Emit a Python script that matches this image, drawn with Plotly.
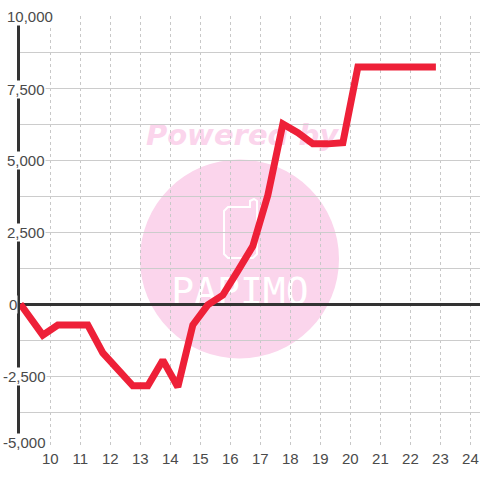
import plotly.graph_objects as go

hours = [9.0, 9.75, 10.25, 11.25, 11.75, 12.75, 13.25, 13.75, 14.25, 14.75, 15.25, 15.75,
         16.25, 16.75, 17.25, 17.75, 18.25, 18.75, 19.25, 19.75, 20.25, 22.85]
values = [0, -1080, -730, -730, -1700, -2840, -2840, -1950, -2880, -730, -30, 310,
          1150, 2010, 3780, 6250, 5950, 5560, 5560, 5600, 8230, 8230]
x_ticks = list(range(10, 25))
y_grid = [-5000, -3750, -2500, -1250, 0, 1250, 2500, 3750, 5000, 6250, 7500, 8750, 10000]
y_labels = [10000, 7500, 5000, 2500, 0, -2500, -5000]

W, H = 480, 480
L, R, T, B = 20, 0, 16, 32
PINK = "#FBD5EC"
INK = "#4A4A4A"


def px(v):
    return (v - L) / (W - L - R)


def py(v):
    return 1 - (v - T) / (H - T - B)


def label_box(x0, y0, x1, y1, text, font):
    return dict(type="rect", xref="paper", yref="paper", x0=px(x0), x1=px(x1), y0=py(y1), y1=py(y0),
                line=dict(width=0), fillcolor="rgba(0,0,0,0)", layer="below",
                label=dict(text=text, font=font, textposition="middle center"))


def phone_path():
    pts = [(228, 207), (250, 207), (250, 201), (254, 199), (257, 201), (257, 254),
           (253, 258), (228, 258), (224, 254), (224, 211)]
    return "M " + " L ".join(f"{px(a):.4f} {py(b):.4f}" for a, b in pts) + " Z"


shapes = [
    dict(type="circle", xref="paper", yref="paper", x0=px(140), x1=px(339), y0=py(358.5), y1=py(159.5),
         line=dict(width=0), fillcolor=PINK, layer="below"),
    dict(type="path", xref="paper", yref="paper", path=phone_path(),
         line=dict(color="white", width=2), fillcolor="rgba(0,0,0,0)", layer="below"),
    label_box(132, 113, 352, 153, "<b><i>Powered by</i></b>",
              dict(family="DejaVu Sans", size=29, color=PINK)),
    label_box(150, 267, 330, 309, "PAPIMO",
              dict(family="DejaVu Sans Mono", size=38, color="white")),
]

annotations = []
for v in y_labels:
    annotations.append(dict(
        x=px(8 if v == 0 else (2 if v < 0 else 6)), xref="paper", xanchor="left",
        y=v, yref="y", yanchor="middle", yshift=6 if v == -5000 else -1 if v == 7500 else 0,
        text="0" if v == 0 else f"{v:,}", showarrow=False, bgcolor="white", borderpad=0,
        font=dict(family="Liberation Sans", size=15, color=INK)))

fig = go.Figure(go.Scatter(x=hours, y=values, mode="lines",
                           line=dict(color="#EE2038", width=7), hoverinfo="skip"))
fig.update_layout(
    width=W, height=H, margin=dict(l=L, r=R, t=T, b=B, pad=0), autosize=False,
    paper_bgcolor="white", plot_bgcolor="white", showlegend=False,
    shapes=shapes, annotations=annotations,
)
fig.update_xaxes(range=[8.99, 24.32], tickmode="array", tickvals=x_ticks, ticktext=[str(t) for t in x_ticks],
                 showgrid=True, gridcolor="#C8C8C8", griddash="3px,3px", gridwidth=1,
                 zeroline=False, showline=False, ticks="", ticklen=0,
                 tickfont=dict(family="Liberation Sans", size=15, color=INK))
fig.update_yaxes(range=[-5000, 10000], tickmode="array", tickvals=y_grid, showticklabels=False,
                 showgrid=True, gridcolor="#CCCCCC", gridwidth=1,
                 zeroline=True, zerolinecolor="#333333", zerolinewidth=3,
                 showline=True, linecolor="#333333", linewidth=3, ticks="")
fig.write_html("out.html", config=dict(displayModeBar=False),
               post_script="document.body.style.margin='0';document.documentElement.style.overflow='hidden';")
